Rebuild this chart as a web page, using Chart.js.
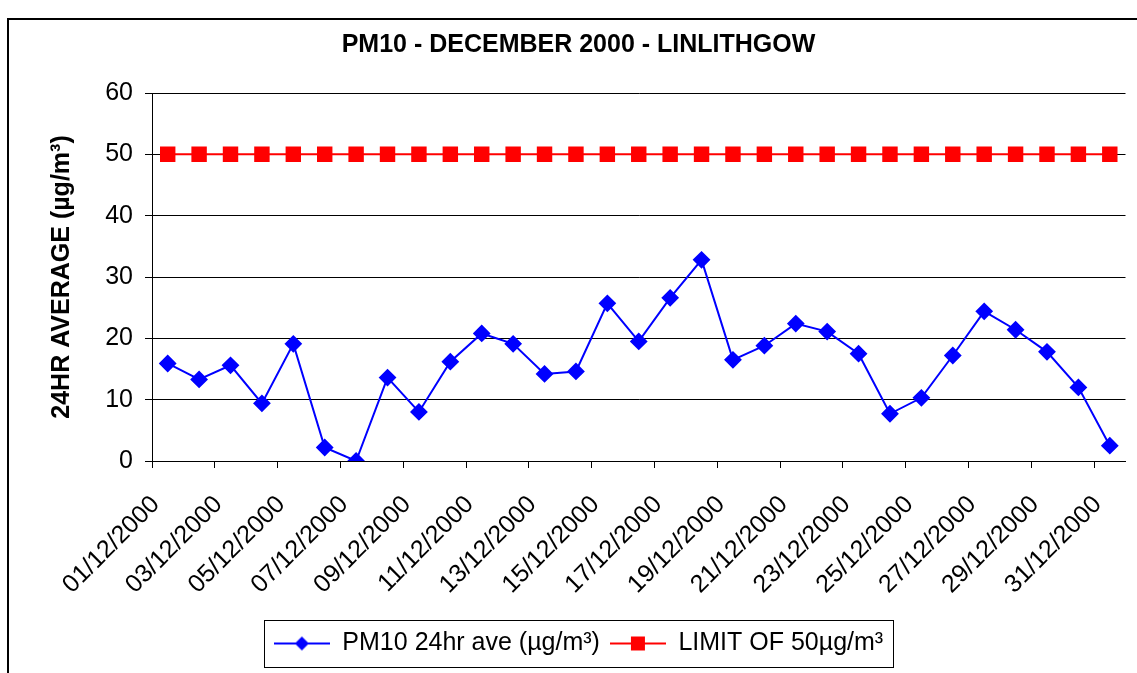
<!DOCTYPE html>
<html>
<head>
<meta charset="utf-8">
<script src="https://cdn.jsdelivr.net/npm/chart.js@4.4.1/dist/chart.umd.min.js"></script>
<style>
  html, body { margin: 0; padding: 0; background: #fff; overflow: hidden; }
</style>
</head>
<body>
<canvas id="pmChart" width="1137" height="673"></canvas>
<script>
const days = [
  '01/12/2000', '02/12/2000', '03/12/2000', '04/12/2000', '05/12/2000', '06/12/2000',
  '07/12/2000', '08/12/2000', '09/12/2000', '10/12/2000', '11/12/2000', '12/12/2000',
  '13/12/2000', '14/12/2000', '15/12/2000', '16/12/2000', '17/12/2000', '18/12/2000',
  '19/12/2000', '20/12/2000', '21/12/2000', '22/12/2000', '23/12/2000', '24/12/2000',
  '25/12/2000', '26/12/2000', '27/12/2000', '28/12/2000', '29/12/2000', '30/12/2000',
  '31/12/2000'
];
const pm10Values = [
  15.9, 13.3, 15.6, 9.4, 19.1, 2.2, 0, 13.6, 8.0, 16.2, 20.8, 19.1, 14.2, 14.6, 25.7,
  19.5, 26.6, 32.8, 16.5, 18.8, 22.4, 21.1, 17.5, 7.7, 10.3, 17.2, 24.4, 21.4, 17.8,
  12.0, 2.5
];
const limitValues = [
  50, 50, 50, 50, 50, 50, 50, 50, 50, 50, 50, 50, 50, 50, 50, 50,
  50, 50, 50, 50, 50, 50, 50, 50, 50, 50, 50, 50, 50, 50, 50
];
const yMin = 0, yMax = 60, yStep = 10;

const FONT = "'Liberation Sans', Arial, sans-serif";

// little line + marker pictures for the legend keys
function legendKey(color, shape) {
  const c = document.createElement('canvas');
  c.width = 56; c.height = 20;
  const g = c.getContext('2d');
  g.strokeStyle = color;
  g.lineWidth = 2;
  g.beginPath(); g.moveTo(0, 10); g.lineTo(56, 10); g.stroke();
  g.fillStyle = color;
  if (shape === 'diamond') {
    g.beginPath();
    g.moveTo(28, 3); g.lineTo(35, 10); g.lineTo(28, 17); g.lineTo(21, 10);
    g.closePath(); g.fill();
  } else {
    g.fillRect(21, 3, 14, 14);
  }
  return c;
}
const keys = [legendKey('#0000FF', 'diamond'), legendKey('#FF0000', 'square')];

const frame = {
  id: 'frame',
  beforeDraw(chart) {
    const ctx = chart.ctx;
    ctx.save();
    ctx.fillStyle = '#fff';
    ctx.fillRect(0, 0, chart.width, chart.height);
    ctx.strokeStyle = '#000';
    ctx.lineWidth = 2;
    ctx.strokeRect(8, 19, 1400, 900);
    ctx.restore();
  },
  afterDraw(chart) {
    const boxes = chart.legend.legendHitBoxes;
    if (!boxes || !boxes.length) return;
    let l = Infinity, r = -Infinity, t = Infinity, b = -Infinity;
    boxes.forEach(h => {
      l = Math.min(l, h.left); r = Math.max(r, h.left + h.width);
      t = Math.min(t, h.top); b = Math.max(b, h.top + h.height);
    });
    const ctx = chart.ctx;
    ctx.save();
    ctx.strokeStyle = '#000';
    ctx.lineWidth = 1;
    ctx.strokeRect(Math.round(l - 10) + 0.5, Math.round(t - 11) + 0.5, Math.round(r - l + 20), Math.round(b - t + 22));
    ctx.restore();
  }
};

new Chart(document.getElementById('pmChart'), {
  type: 'line',
  data: {
    labels: days,
    datasets: [
      {
        label: 'PM10 24hr ave (µg/m³)',
        data: pm10Values,
        borderColor: '#0000FF',
        backgroundColor: '#0000FF',
        borderWidth: 2,
        pointStyle: 'rectRot',
        pointRadius: 7.5,
        tension: 0
      },
      {
        label: 'LIMIT OF 50µg/m³',
        data: limitValues,
        borderColor: '#FF0000',
        backgroundColor: '#FF0000',
        borderWidth: 2,
        pointStyle: 'rect',
        pointRadius: 9.5,
        tension: 0
      }
    ]
  },
  options: {
    responsive: false,
    animation: false,
    layout: { padding: { left: 22, right: 2, top: 0, bottom: 7 } },
    plugins: {
      title: {
        display: true,
        text: 'PM10 - DECEMBER 2000 - LINLITHGOW',
        color: '#000',
        font: { family: FONT, size: 25, weight: 'bold' },
        padding: { top: 30, bottom: 33 }
      },
      legend: {
        position: 'bottom',
        labels: {
          color: '#000',
          font: { family: FONT, size: 25 },
          usePointStyle: true,
          pointStyleWidth: 56,
          padding: 10,
          generateLabels(chart) {
            const items = Chart.defaults.plugins.legend.labels.generateLabels(chart);
            items.forEach((it, i) => { it.pointStyle = keys[i]; });
            return items;
          }
        }
      },
      tooltip: { enabled: false }
    },
    scales: {
      x: {
        offset: true,
        ticks: {
          autoSkip: false,
          minRotation: 45,
          maxRotation: 45,
          color: '#000',
          font: { family: FONT, size: 25 },
          padding: 22,
          labelOffset: -12,
          callback(value, index) {
            return index % 2 === 0 ? this.getLabelForValue(value) : '';
          }
        },
        grid: {
          offset: true,
          drawOnChartArea: false,
          tickLength: 7,
          color: ctx => (ctx.index % 2 === 0 ? '#000' : 'rgba(0,0,0,0)')
        },
        border: { color: '#000' },
        afterFit(scale) {
          scale.height = 160;
          scale.paddingLeft = 0;
          scale.paddingRight = 0;
        }
      },
      y: {
        min: yMin,
        max: yMax,
        ticks: {
          stepSize: yStep,
          color: '#000',
          font: { family: FONT, size: 25 },
          padding: 12
        },
        grid: { color: '#000', lineWidth: 1, tickLength: 7 },
        border: { color: '#000' },
        title: {
          display: true,
          text: '24HR AVERAGE (µg/m³)',
          color: '#000',
          font: { family: FONT, size: 25, weight: 'bold' },
          padding: { top: 25, bottom: 0 }
        },
        afterFit(scale) { scale.width = 130; }
      }
    }
  },
  plugins: [frame]
});
</script>
</body>
</html>
